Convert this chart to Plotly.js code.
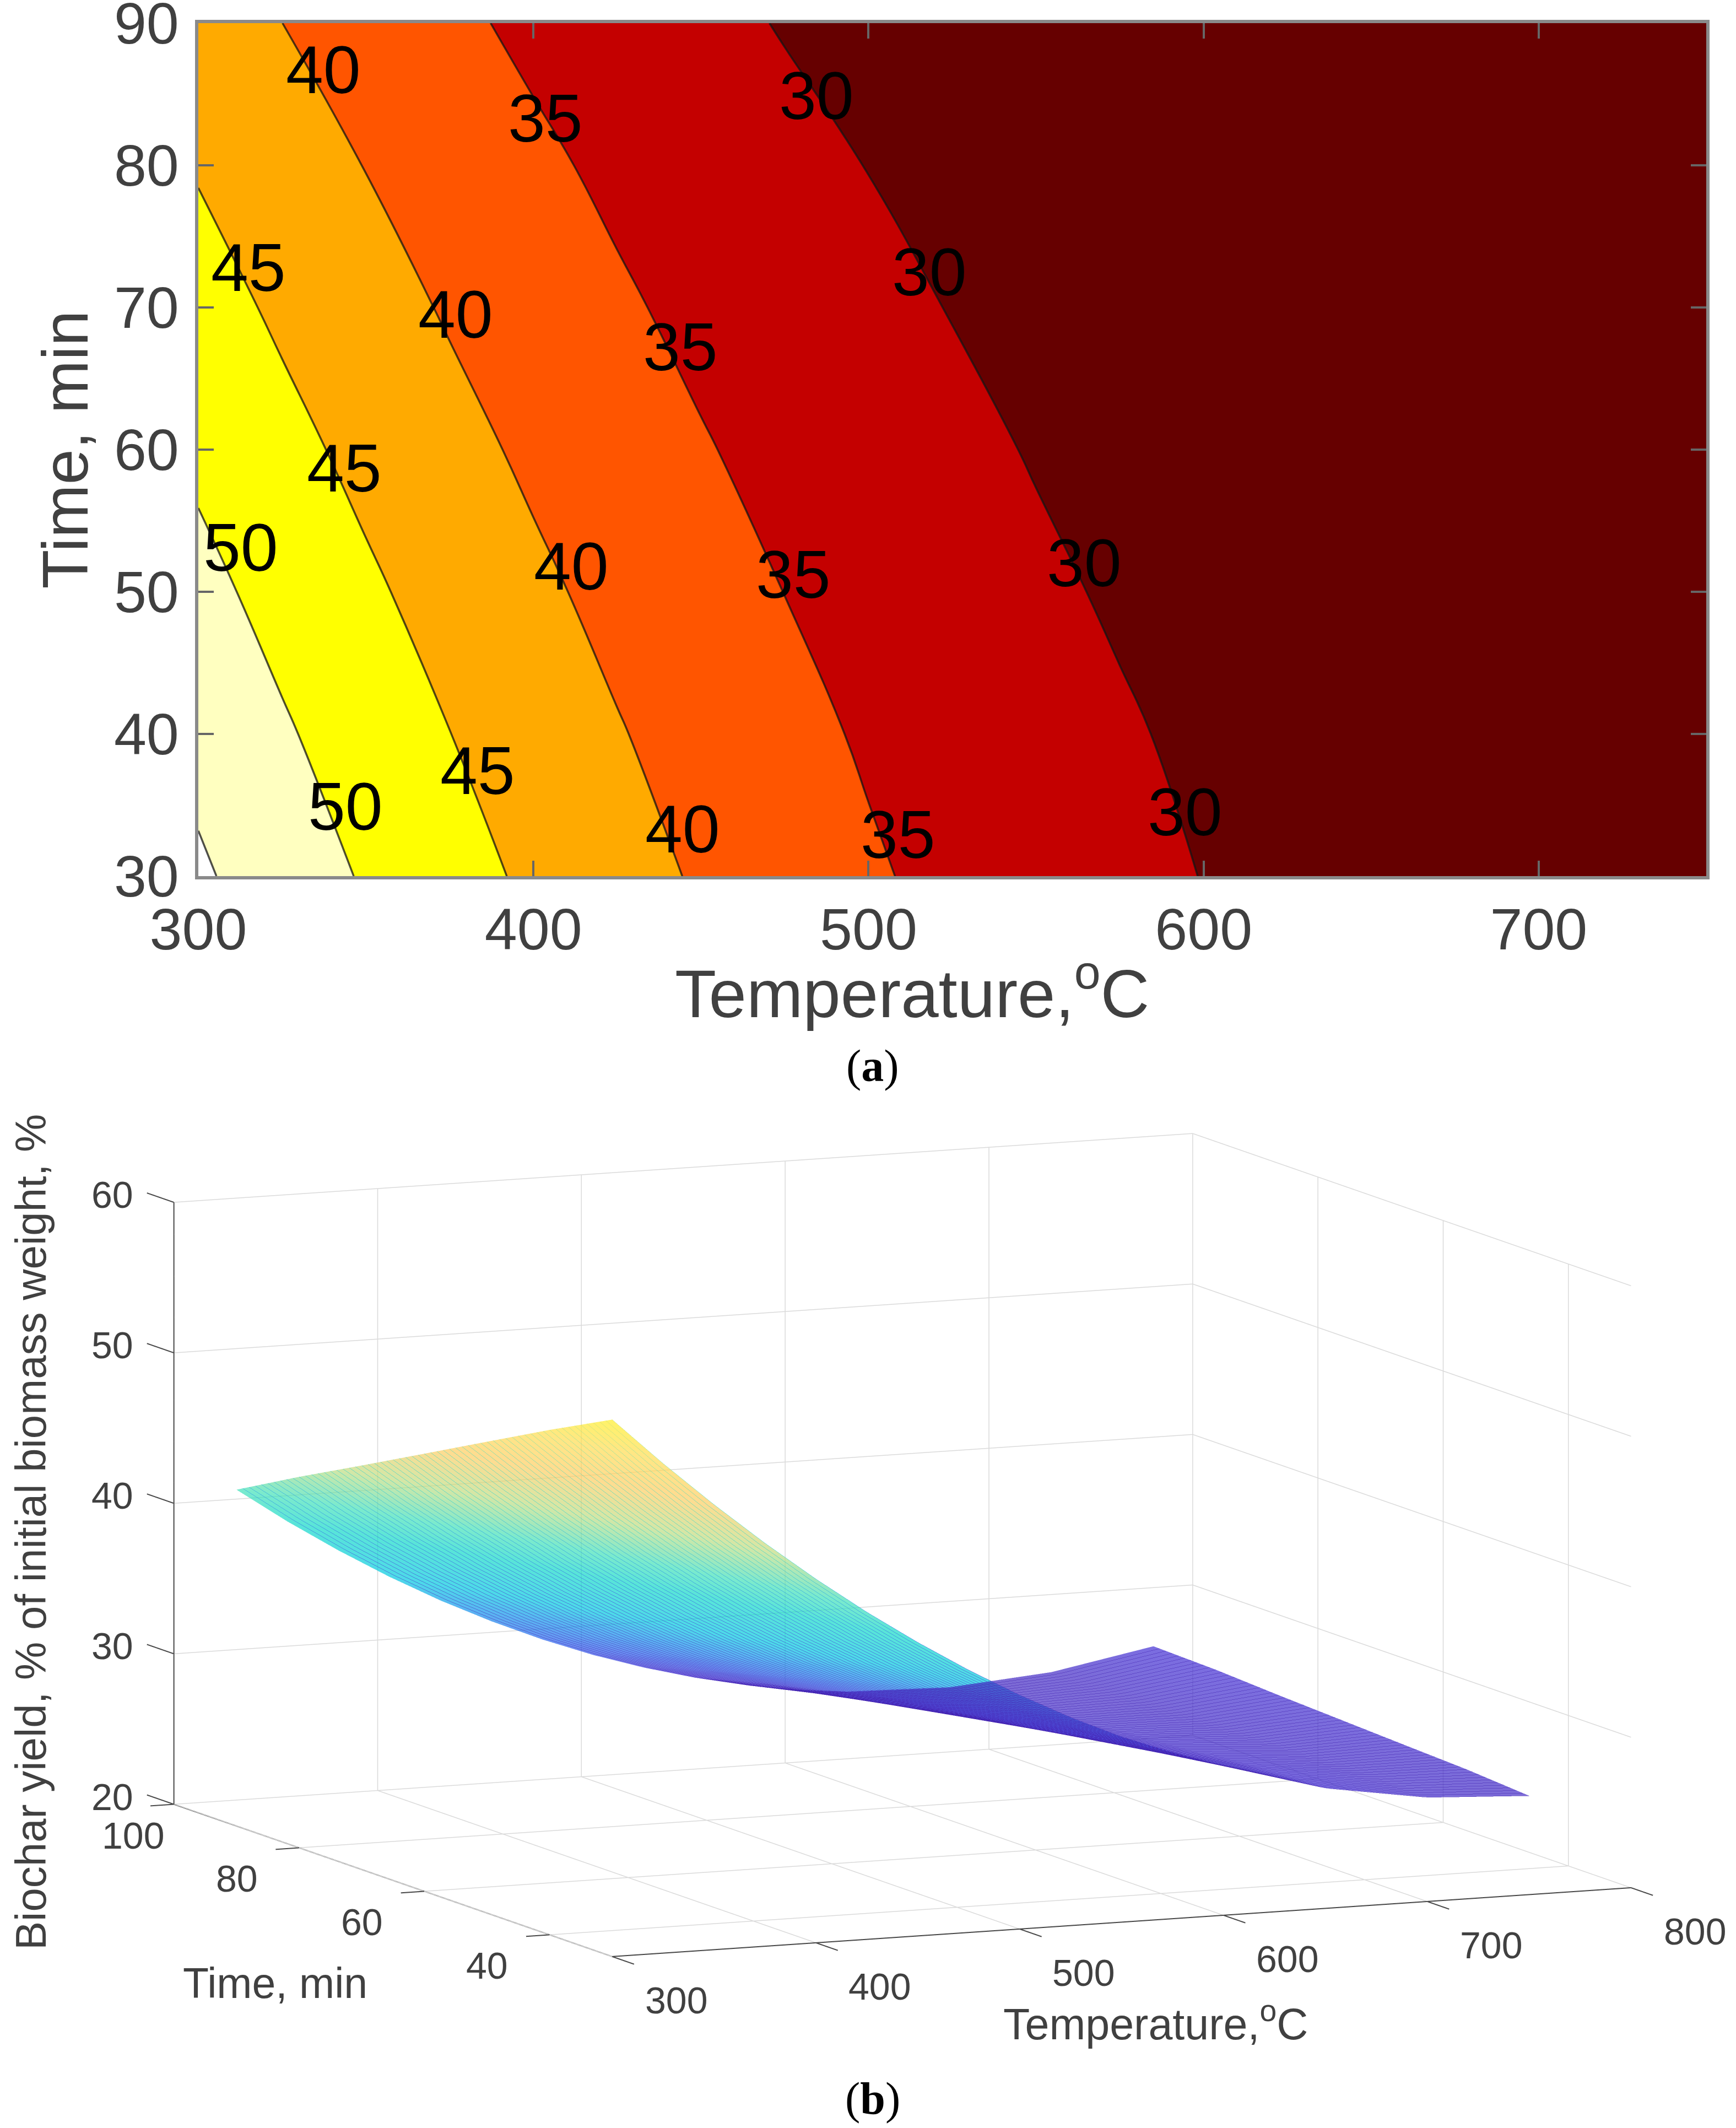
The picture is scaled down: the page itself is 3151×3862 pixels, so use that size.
<!DOCTYPE html>
<html>
<head>
<meta charset="utf-8">
<script src="https://cdn.plot.ly/plotly-3.0.1.min.js"></script>
<style>html,body{margin:0;padding:0;background:#fff}#chart{width:3151px;height:3862px}</style>
</head>
<body>
<div id="chart"></div>
<script>
const temperature = [300,325,350,375,400,425,450,475,500,525,550,575,600,650,700,750];
const time = [30,40,50,60,70,80,90];
const yield30 = [55.68,52.53,49.57,46.78,44.17,41.74,39.50,37.43,35.54,33.83,32.31,31.05,29.92,27.99,26.92,26.57];
const yield40 = [53.55,50.54,47.71,45.05,42.58,40.29,38.18,36.25,34.50,32.92,31.60,30.40,29.32,27.77,26.96,26.88];
const yield50 = [51.32,48.44,45.75,43.23,40.89,38.73,36.76,34.96,33.34,31.91,30.65,29.57,28.68,27.42,26.89,27.07];
const yield60 = [49.08,46.34,43.78,41.39,39.19,37.17,35.33,33.67,32.19,30.88,29.76,28.82,28.06,27.08,26.81,27.27];
const yield70 = [46.85,44.24,41.82,39.57,37.50,35.62,33.91,32.38,31.04,29.87,28.88,28.08,27.45,26.74,26.75,27.47];
const yield80 = [44.65,42.18,39.89,37.78,35.85,34.09,32.52,31.13,29.92,28.89,28.04,27.37,26.88,26.44,26.71,27.71];
const yield90 = [42.35,40.01,37.86,35.88,34.08,32.47,31.03,29.77,28.70,27.80,27.08,26.55,26.19,26.02,26.57,27.83];
const yieldGrid = [yield30,yield40,yield50,yield60,yield70,yield80,yield90];

const labelText = ['40','35','30','30','45','40','35','45','40','35','30','50','50','45','40','35','30'];
const labelT = [337.4,403.6,484.4,518.1,315,376.8,443.8,343.5,411.3,477.5,564.4,312.6,343.9,383.3,444.6,508.8,594.5];
const labelTime = [86.7,83.3,84.9,72.5,72.8,69.5,67.2,58.7,51.8,51.2,52,53.1,34.9,37.4,33.3,32.9,34.5];

const xTicks3d = [300,400,500,600,700,800];
const yTicks3d = [100,80,60,40];
const zTicks3d = [20,30,40,50,60];
const xRange3d = [300,800], yRange3d = [30,100], zRange3d = [20,60];

const bandColors = ['#660000','#C40000','#FF5500','#FFAA00','#FFFF00','#FFFFC0','#FFFFFF'];
const W = 3151, H = 3862;
const labelColor = '#404040';
const fontName = '"Liberation Sans", Arial, sans-serif';

const contourTrace = {
  type:'contour', x:temperature, y:time, z:yieldGrid, xaxis:'x', yaxis:'y',
  autocontour:false, contours:{start:30,end:55,size:5,coloring:'fill',showlines:true},
  colorscale:bandColors.map((c,i)=>[i/6,c]), showscale:false,
  line:{color:'rgba(20,20,20,0.75)',width:3.5,smoothing:1.3}, hoverinfo:'skip'
};

const surfaceTrace = {
  type:'surface', x:temperature, y:time, z:yieldGrid, scene:'scene', showscale:false,
  cmin:25, cmax:56, opacity:0.7,
  colorscale:[[0,'#4526B4'],[0.1,'#4030D8'],[0.19,'#2860EC'],[0.28,'#1098EC'],[0.35,'#00C8E0'],[0.48,'#10D8C8'],[0.56,'#40E0B8'],[0.68,'#C0DC80'],[0.8,'#FFCC60'],[0.9,'#FFDC50'],[1,'#FFF020']],
  lighting:{ambient:1,diffuse:0,specular:0,roughness:1,fresnel:0},
  contours:{x:{show:false},z:{show:false},y:{show:true,start:30,end:90,size:1,usecolormap:true,width:2}},
  hoverinfo:'skip'
};

// box lines and ticks of the 3-D axes, built from the tick lists
function segs(list){
  const xs=[],ys=[],zs=[];
  list.forEach(s=>{xs.push(s[0][0],s[1][0],null);ys.push(s[0][1],s[1][1],null);zs.push(s[0][2],s[1][2],null);});
  return {x:xs,y:ys,z:zs};
}
const [x0,x1]=xRange3d,[y0,y1]=yRange3d,[z0,z1]=zRange3d;
const gridSegs=[];
xTicks3d.forEach(v=>{ gridSegs.push([[v,y1,z0],[v,y1,z1]]); gridSegs.push([[v,y0,z0],[v,y1,z0]]); });
zTicks3d.forEach(v=>{ gridSegs.push([[x0,y1,v],[x1,y1,v]]); gridSegs.push([[x1,y0,v],[x1,y1,v]]); });
yTicks3d.forEach(v=>{ gridSegs.push([[x1,v,z0],[x1,v,z1]]); gridSegs.push([[x0,v,z0],[x1,v,z0]]); });
const gridTrace = Object.assign({type:'scatter3d',mode:'lines',scene:'scene',line:{color:'#dadada',width:3},hoverinfo:'skip',showlegend:false},segs(gridSegs));
const axisSegs=[[[x0,y1,z0],[x0,y1,z1]],[[x0,y0,z0],[x0,y1,z0]],[[x0,y0,z0],[x1,y0,z0]]];
xTicks3d.forEach(v=>axisSegs.push([[v,y0,z0],[v,y0-3.5,z0]]));
yTicks3d.forEach(v=>axisSegs.push([[x0,v,z0],[x0-11.5,v,z0]]));
zTicks3d.forEach(v=>axisSegs.push([[x0,y1,v],[x0,y1+4.3,v]]));
const axisTrace = Object.assign({type:'scatter3d',mode:'lines',scene:'scene',line:{color:'#484848',width:4},hoverinfo:'skip',showlegend:false},segs(axisSegs));

const sceneLabels = [];
const sl = (text,x,y,z,xs,ys,size,extra) => sceneLabels.push(Object.assign({text:String(text),x,y,z,xshift:xs,yshift:ys,showarrow:false,xanchor:'center',yanchor:'middle',font:{family:fontName,size,color:labelColor}},extra||{}));
xTicks3d.forEach(v=>sl(v,v,30,20,116,-79,68));
yTicks3d.forEach(v=>sl(v,300,v,20,v===100?-74:-113,-56,68));
zTicks3d.forEach(v=>sl(v,300,100,v,-112,14,68));
sl('Time, min',300,60,20,-271,-167,77);
sl('Temperature,<sup>o</sup>C',600,30,20,-123,-192,79);
sl('Biochar yield, % of initial biomass weight, %',300,100,40,-259,-52,78,{textangle:-90});

const sceneAxis = {
  showgrid:false, zeroline:false, showline:false,
  ticks:'', showticklabels:false, showspikes:false,
  showbackground:false, title:{text:''}
};

const layout = {
  width:W, height:H, paper_bgcolor:'#fff', plot_bgcolor:'#fff', showlegend:false,
  margin:{l:0,r:0,t:0,b:0,pad:0},
  font:{family:fontName,color:labelColor},
  xaxis:{domain:[360/W,3097/W], range:[300,750], dtick:100, tick0:300, ticks:'inside', ticklen:28, tickwidth:4, tickcolor:'#666666',
    showline:true, linecolor:'#8a8a8a', linewidth:6, mirror:'ticks', showgrid:false, zeroline:false, anchor:'y',
    tickfont:{size:106,color:labelColor,family:fontName}},
  yaxis:{domain:[(H-1590)/H,(H-42)/H], range:[30,90], dtick:10, tick0:30, ticks:'inside', ticklen:28, tickwidth:4, tickcolor:'#666666',
    showline:true, linecolor:'#8a8a8a', linewidth:6, mirror:'ticks', showgrid:false, zeroline:false, anchor:'x',
    tickfont:{size:106,color:labelColor,family:fontName}, ticklabeloverflow:'allow', ticklabelstandoff:8,
    title:{text:'Time, min',font:{size:116,color:labelColor,family:fontName},standoff:10}},
  scene:{
    domain:{x:[125/W,1],y:[0,(H-1746)/H]},
    aspectmode:'manual', aspectratio:{x:2.002,y:2.103,z:1.0475},
    camera:{projection:{type:'orthographic'},up:{x:0,y:0,z:1},center:{x:0,y:0,z:0},eye:{x:-2.392,y:-5.424,z:0.919}},
    xaxis:Object.assign({},sceneAxis,{range:[288,812]}),
    yaxis:Object.assign({},sceneAxis,{range:[25.5,104.5]}),
    zaxis:Object.assign({},sceneAxis,{range:[z0-0.05,z1+0.05]}),
    annotations:sceneLabels
  },
  annotations:[
    ...labelText.map((t,i)=>({text:t,x:labelT[i],y:labelTime[i],xref:'x',yref:'y',showarrow:false,xanchor:'center',yanchor:'middle',font:{family:fontName,size:122,color:'#000'}})),
    {text:'Temperature,<sup>o</sup>C',x:672*2.4637/W,y:1-728*2.4637/H,xref:'paper',yref:'paper',xanchor:'center',yanchor:'middle',showarrow:false,font:{family:fontName,size:123,color:labelColor}},
    {text:'(<b>a</b>)',x:643*2.4637/W,y:1-785*2.4637/H,xref:'paper',yref:'paper',xanchor:'center',yanchor:'middle',showarrow:false,font:{family:'"Liberation Serif",serif',size:82,color:'#000'}},
    {text:'(<b>b</b>)',x:643*2.4637/W,y:1-1546*2.4637/H,xref:'paper',yref:'paper',xanchor:'center',yanchor:'middle',showarrow:false,font:{family:'"Liberation Serif",serif',size:82,color:'#000'}}
  ]
};

Plotly.newPlot('chart',[contourTrace,gridTrace,axisTrace,surfaceTrace],layout,{displayModeBar:false,responsive:false});
</script>
</body>
</html>
